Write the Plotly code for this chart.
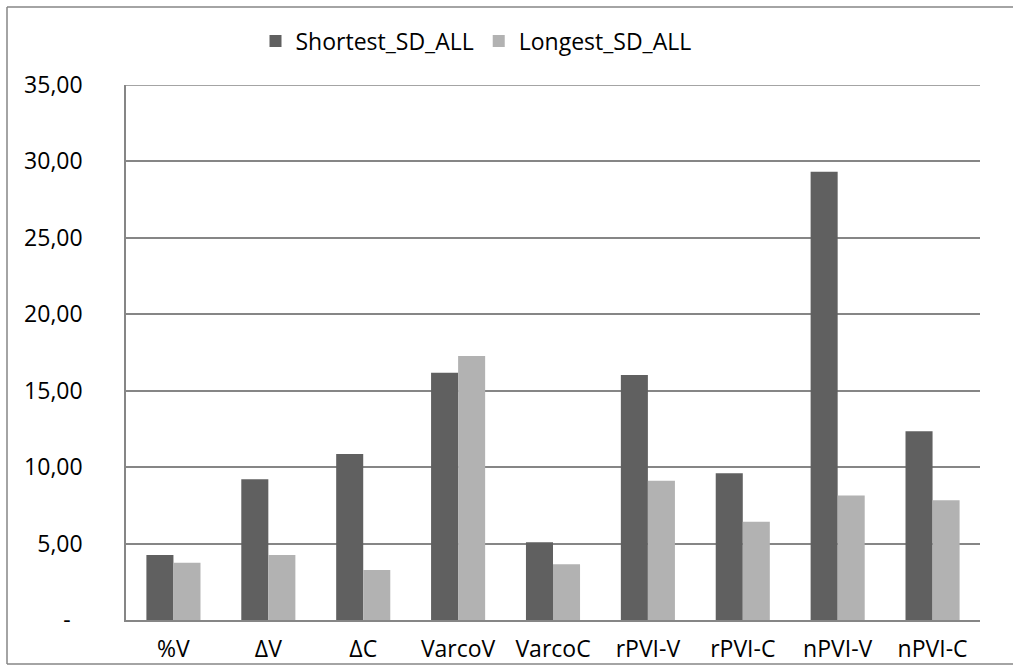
import plotly.graph_objects as go

# Rhythm metrics (standard deviations) for two speaking-rate groups
metrics = ["%V", "ΔV", "ΔC", "VarcoV", "VarcoC", "rPVI-V", "rPVI-C", "nPVI-V", "nPVI-C"]
shortest_sd_all = [4.25, 9.20, 10.86, 16.18, 5.08, 16.03, 9.60, 29.33, 12.34]
longest_sd_all = [3.75, 4.25, 3.27, 17.27, 3.64, 9.11, 6.43, 8.15, 7.83]

y_ticks = [0, 5, 10, 15, 20, 25, 30, 35]
y_tick_text = ["-\u00a0\u00a0", "5,00", "10,00", "15,00", "20,00", "25,00", "30,00", "35,00"]

FONT = "Open Sans"
FS = 23
GRID = "#868686"

fig = go.Figure()
fig.add_trace(go.Bar(
    name="Shortest_SD_ALL", x=metrics, y=shortest_sd_all,
    marker=dict(color="#606060", line=dict(width=0)),
))
fig.add_trace(go.Bar(
    name="Longest_SD_ALL", x=metrics, y=longest_sd_all,
    marker=dict(color="#b2b2b2", line=dict(width=0)),
))

W, H = 1013, 666
L, R, T, B = 126, 33, 85, 46
pw, ph = W - L - R, H - T - B

def px_x(p):
    return (p - L) / pw

def px_y(p):
    return (H - B - p) / ph

frame = dict(color=GRID, width=1.5)
fig.update_layout(
    width=W, height=H,
    margin=dict(l=L, r=R, t=T, b=B, pad=0, autoexpand=False),
    paper_bgcolor="white", plot_bgcolor="white",
    barmode="group", bargap=0.43, bargroupgap=0,
    font=dict(family=FONT, size=FS, color="#000000"),
    showlegend=True,
    legend=dict(
        orientation="h", x=px_x(476), y=px_y(41), xanchor="center", yanchor="middle",
        font=dict(family=FONT, size=FS), itemwidth=30, traceorder="normal",
        bgcolor="rgba(0,0,0,0)",
    ),
    xaxis=dict(
        automargin=False,
        showline=True, linecolor=GRID, linewidth=1.5, showgrid=False,
        ticks="", tickfont=dict(family=FONT, size=FS), ticklabelstandoff=8,
    ),
    yaxis=dict(
        automargin=False,
        range=[0, 35], tickvals=y_ticks, ticktext=y_tick_text,
        showline=True, linecolor=GRID, linewidth=1.5,
        showgrid=True, gridcolor=GRID, gridwidth=1.5,
        zeroline=False, ticks="", tickfont=dict(family=FONT, size=FS),
        ticklabelstandoff=37,
    ),
    shapes=[
        # top gridline of the plot area
        dict(type="line", xref="paper", yref="y", x0=0, x1=1, y0=35, y1=35,
             line=dict(color=GRID, width=1.5)),
        # chart frame: left, top and bottom edges
        dict(type="line", xref="paper", yref="paper",
             x0=px_x(7), x1=px_x(7), y0=px_y(664), y1=px_y(7), line=frame),
        dict(type="line", xref="paper", yref="paper",
             x0=px_x(7), x1=px_x(1013), y0=px_y(7), y1=px_y(7), line=frame),
        dict(type="line", xref="paper", yref="paper",
             x0=px_x(7), x1=px_x(1013), y0=px_y(664), y1=px_y(664), line=frame),
    ],
)

fig.write_html("out.html")
